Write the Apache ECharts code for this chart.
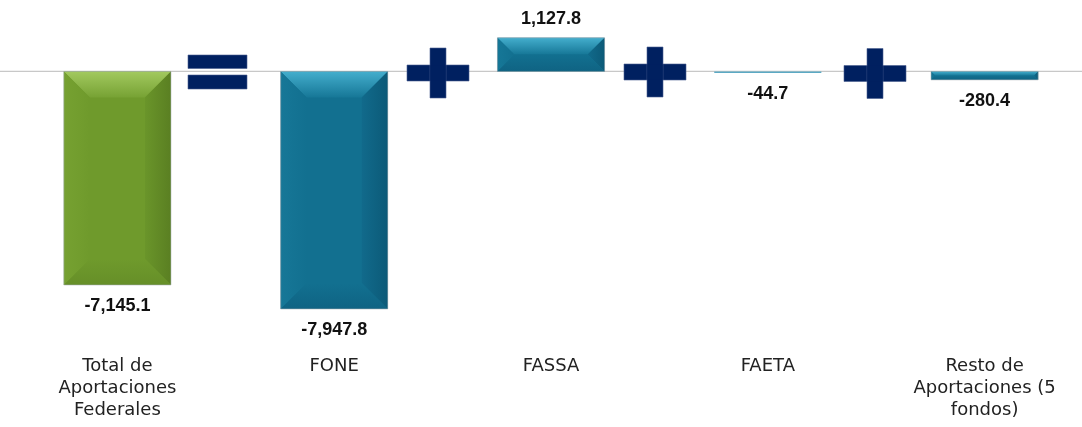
<!DOCTYPE html>
<html><head><meta charset="utf-8">
<script src="https://cdn.jsdelivr.net/npm/echarts@6/dist/echarts.min.js"></script>
<style>html,body{margin:0;padding:0;background:#fff}#c{width:1082px;height:427px}</style>
</head><body><div id="c"></div>
<script>
const categories = ['Total de\nAportaciones\nFederales', 'FONE', 'FASSA', 'FAETA', 'Resto de\nAportaciones (5\nfondos)'];
const values = [-7145.1, -7947.8, 1127.8, -44.7, -280.4];
const barColorKind = ['green', 'blue', 'blue', 'blue', 'blue'];

const palettes = {
  green: {top: ['#a2c95f', '#77a234'], left: ['#76a131', '#6f9a2c'], right: ['#6a952a', '#5a7f22'], bottom: ['#6f9a2c', '#668f28'], center: '#6f9a2c', line: '#8fb45a'},
  blue:  {top: ['#44aecd', '#167797'], left: ['#167797', '#127090'], right: ['#116a8b', '#0c5a78'], bottom: ['#127090', '#0f6383'], center: '#127090', line: '#5ba9c4'}
};

function fmt(v) {
  return v.toLocaleString('en-US', {minimumFractionDigits: 1, maximumFractionDigits: 1});
}

const chart = echarts.init(document.getElementById('c'));
const G = echarts.graphic.LinearGradient;

function renderItem(params, api) {
  const idx = api.value(0), v = api.value(1);
  const p0 = api.coord([idx, 0]), p1 = api.coord([idx, v]);
  const w = api.size([1, 0])[0] * 0.494;
  const x = p0[0] - w / 2;
  const yT = Math.min(p0[1], p1[1]), yB = Math.max(p0[1], p1[1]);
  const h = Math.max(yB - yT, 1.5);
  const pal = palettes[barColorKind[params.dataIndex]];
  const children = [];
  const b = Math.min(26, h / 2, w / 2);
  if (h < 4) {
    children.push({type: 'rect', shape: {x: x, y: yT, width: w, height: h}, style: {fill: pal.line}});
  } else {
    const L = x, R = x + w, T = yT, B = yT + h;
    const iL = L + b, iR = R - b, iT = T + b, iB = B - b;
    children.push({type: 'rect', shape: {x: L, y: T, width: w, height: h}, style: {fill: pal.center}});
    children.push({type: 'polygon', shape: {points: [[L, T], [R, T], [iR, iT], [iL, iT]]},
      style: {fill: new G(0, 0, 0, 1, [{offset: 0, color: pal.top[0]}, {offset: 1, color: pal.top[1]}])}});
    children.push({type: 'polygon', shape: {points: [[L, T], [iL, iT], [iL, iB], [L, B]]},
      style: {fill: new G(0, 0, 1, 0, [{offset: 0, color: pal.left[0]}, {offset: 1, color: pal.left[1]}])}});
    children.push({type: 'polygon', shape: {points: [[R, T], [R, B], [iR, iB], [iR, iT]]},
      style: {fill: new G(0, 0, 1, 0, [{offset: 0, color: pal.right[0]}, {offset: 1, color: pal.right[1]}])}});
    children.push({type: 'polygon', shape: {points: [[L, B], [iL, iB], [iR, iB], [R, B]]},
      style: {fill: new G(0, 0, 0, 1, [{offset: 0, color: pal.bottom[0]}, {offset: 1, color: pal.bottom[1]}])}});
    children.push({type: 'rect', shape: {x: L, y: T, width: w, height: h}, style: {fill: 'none', stroke: 'rgba(160,170,175,0.55)', lineWidth: 1}});
  }
  const txt = fmt(v);
  const font = 'bold 18px "Liberation Sans", Arial, sans-serif';
  if (v >= 0) {
    children.push({type: 'text', style: {text: txt, x: p0[0], y: yT - 10, align: 'center', verticalAlign: 'bottom', font: font, fill: '#111'}});
  } else {
    children.push({type: 'text', style: {text: txt, x: p0[0], y: yT + h + 12, align: 'center', verticalAlign: 'top', font: font, fill: '#111'}});
  }
  return {type: 'group', children: children};
}

chart.setOption({
  animation: false,
  grid: {left: 9, width: 1084, top: 35.6, height: 274.9, outerBoundsMode: 'none', containLabel: false},
  xAxis: {
    type: 'category', data: categories,
    axisLine: {show: false}, axisTick: {show: false},
    axisLabel: {margin: 45, fontSize: 18, lineHeight: 22, color: '#222', fontFamily: '"DejaVu Sans", sans-serif', interval: 0}
  },
  yAxis: {type: 'value', min: -8000, max: 1200, show: false, splitLine: {show: false}},
  series: [{
    type: 'custom', renderItem: renderItem, z: 5,
    encode: {x: 0, y: 1},
    data: values.map((v, i) => [i, v])
  }]
});

const y0 = chart.convertToPixel({yAxisIndex: 0}, 0);
const navy = '#002060';
const st = {fill: navy, stroke: '#4a6090', lineWidth: 0.6};
function plus(cx, cy) {
  return [
    {type: 'rect', shape: {x: cx - 31, y: cy - 8, width: 62, height: 16}, style: st, z: 10},
    {type: 'rect', shape: {x: cx - 8, y: cy - 25, width: 16, height: 50}, style: st, z: 10},
    {type: 'rect', shape: {x: cx - 7.7, y: cy - 7.7, width: 15.4, height: 15.4}, style: {fill: navy}, z: 11}
  ];
}
chart.setOption({
  graphic: [
    {type: 'line', shape: {x1: 0, y1: y0, x2: 1082, y2: y0}, style: {stroke: '#c8c8c8', lineWidth: 1.2}, z: 0},
    {type: 'rect', shape: {x: 188, y: 55, width: 59, height: 13.5}, style: st, z: 10},
    {type: 'rect', shape: {x: 188, y: 75, width: 59, height: 14}, style: st, z: 10},
    ...plus(438, 73),
    ...plus(655, 72),
    ...plus(875, 73.5)
  ]
});
</script>
</body></html>
